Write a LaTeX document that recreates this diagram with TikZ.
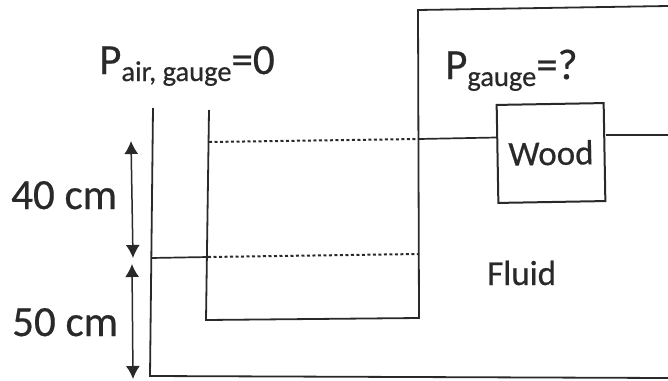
\documentclass[tikz,border=0pt]{standalone}
\usepackage{fontspec}
\setmainfont{Carlito}[RawFeature={embolden=0.5}]
\usetikzlibrary{arrows.meta}
\definecolor{ink}{gray}{0.16}
\tikzset{
  wall/.style={draw=ink,line width=1.8pt},
  level/.style={draw=ink,line width=1.7pt},
  dots/.style={draw=ink,line width=2pt,dash pattern=on 3pt off 2.5pt},
  dim/.style={draw=ink,line width=1.5pt,{Latex[length=13pt,width=14pt]}-{Latex[length=13pt,width=14pt]}},
  big/.style={text=ink,inner sep=0pt,font=\fontsize{43}{43}\selectfont},
  mid/.style={text=ink,inner sep=0pt,font=\fontsize{35}{35}\selectfont},
  woodbox/.style={draw=ink,line width=2pt,minimum width=107pt,minimum height=98pt,inner sep=0pt,rotate=1}
}
\newcommand{\subtxt}[1]{\raisebox{-7pt}{\fontsize{28.5}{28.5}\selectfont #1}}
\begin{document}
\begin{tikzpicture}[x=1pt,y=-1pt]
\useasboundingbox (0,0) rectangle (668,380);
\coordinate (ola) at (153,108);
\coordinate (olb) at (150,376);
\coordinate (olc) at (668,378);
\coordinate (ila) at (209,110);
\coordinate (ilb) at (206,320);
\coordinate (ilc) at (419,318);
\coordinate (ild) at (418,10);
\coordinate (ile) at (668,6);
\coordinate (wl) at (151,258);
\coordinate (wm) at (208,257);
\coordinate (wr) at (419,254);
\coordinate (ul) at (209,142);
\coordinate (ur) at (419,139);
\coordinate (fr) at (668,135);
\coordinate (ata) at (131,141);
\coordinate (atb) at (133,258);
\coordinate (aba) at (132,264);
\coordinate (abb) at (133,379);
\draw[wall] (ola) -- (olb) -- (olc);
\draw[wall] (ila) -- (ilb) -- (ilc) -- (ild) -- (ile);
\node[woodbox,mid] (wood) at (551,153) {Wood};
\draw[level] (wl) -- (wm);
\draw[dots] (wm) -- (wr);
\draw[dots] (ul) -- (ur);
\draw[level] (ur) -- (wood.west |- 0,137.5);
\draw[level] (wood.east |- 0,135) -- (fr);
\draw[dim] (ata) -- (atb);
\draw[dim] (aba) -- (abb);
\node[big,anchor=base west] (t40) at (11,209) {40 cm};
\node[big,anchor=base west] (t50) at (12,336) {50 cm};
\node[big,anchor=base west] (pair) at (99,74) {P\subtxt{air, gauge}=0};
\node[big,anchor=base west] (pg) at (445,79) {P\subtxt{gauge}=?};
\node[mid,anchor=base west] (fluid) at (487,285) {Fluid};
\end{tikzpicture}
\end{document}
